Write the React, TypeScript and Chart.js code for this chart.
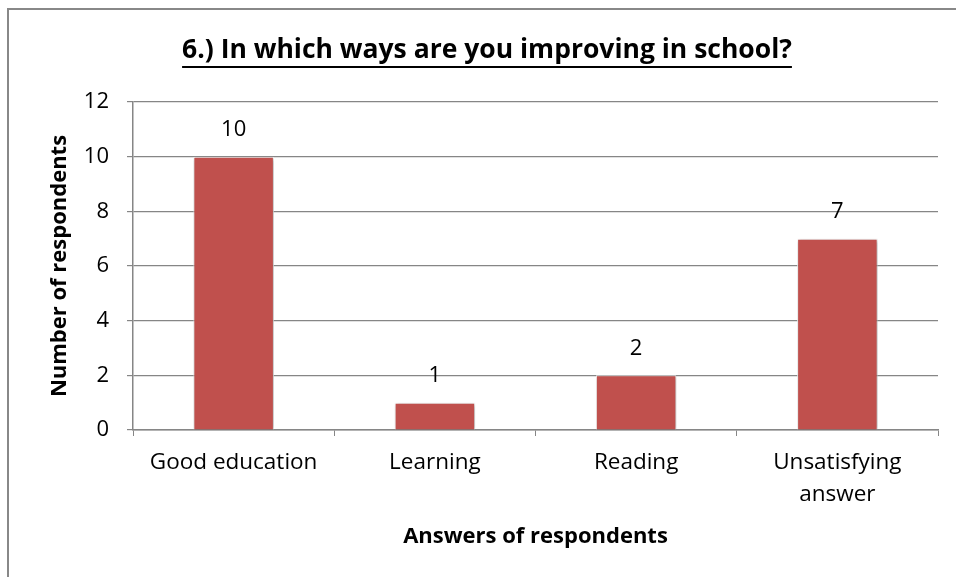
import React, { useEffect, useRef } from "react";
import { Chart, registerables } from "chart.js";

Chart.register(...registerables);

const chartTitle = "6.) In which ways are you improving in school?";
const categories: (string | string[])[] = [
  "Good education",
  "Learning",
  "Reading",
  ["Unsatisfying", "answer"],
];
const respondents = [10, 1, 2, 7];
const yTicks = [0, 2, 4, 6, 8, 10, 12];
const xAxisTitle = "Answers of respondents";
const yAxisTitle = "Number of respondents";

const FONT = "'Open Sans', 'Liberation Sans', sans-serif";
const BAR = "#C0504D";
const GRID = "#868686";

const titlePlugin = {
  id: "customTitle",
  afterDraw(chart: any) {
    const ctx = chart.ctx;
    ctx.save();
    ctx.font = `bold 26.5px ${FONT}`;
    ctx.fillStyle = "#000";
    ctx.textAlign = "center";
    ctx.textBaseline = "middle";
    const cx = chart.width / 2 + 9;
    const cy = 50;
    ctx.fillText(chartTitle, cx, cy);
    const w = ctx.measureText(chartTitle).width;
    ctx.strokeStyle = "#000";
    ctx.lineWidth = 2;
    ctx.beginPath();
    ctx.moveTo(cx - w / 2, cy + 17);
    ctx.lineTo(cx + w / 2, cy + 17);
    ctx.stroke();
    ctx.restore();
  },
};

const shadowPlugin = {
  id: "barShadow",
  beforeDatasetDraw(chart: any) {
    const ctx = chart.ctx;
    ctx.save();
    ctx.shadowColor = "rgba(0,0,0,0.35)";
    ctx.shadowBlur = 4;
    ctx.shadowOffsetX = 1;
    ctx.shadowOffsetY = 1;
  },
  afterDatasetDraw(chart: any) {
    chart.ctx.restore();
  },
};

const labelPlugin = {
  id: "valueLabels",
  afterDatasetsDraw(chart: any) {
    const ctx = chart.ctx;
    const meta = chart.getDatasetMeta(0);
    ctx.save();
    ctx.font = `22px ${FONT}`;
    ctx.fillStyle = "#000";
    ctx.textAlign = "center";
    ctx.textBaseline = "middle";
    meta.data.forEach((bar: any, i: number) => {
      ctx.fillText(String(respondents[i]), bar.x, bar.y - 27);
    });
    ctx.restore();
  },
};

export default function App() {
  const ref = useRef<HTMLCanvasElement | null>(null);
  useEffect(() => {
    if (!ref.current) return;
    const chart = new Chart(ref.current, {
      type: "bar",
      data: {
        labels: categories as any,
        datasets: [
          {
            data: respondents,
            backgroundColor: BAR,
            borderColor: "#ffffff",
            borderWidth: 1,
            categoryPercentage: 1,
            barPercentage: 0.4,
          },
        ],
      },
      options: {
        animation: false,
        responsive: false,
        maintainAspectRatio: false,
        layout: { padding: { top: 102, right: 18, bottom: 0, left: 0 } },
        plugins: {
          legend: { display: false },
          tooltip: { enabled: false },
          title: { display: false },
        },
        scales: {
          x: {
            grid: {
              offset: true,
              drawOnChartArea: false,
              drawTicks: true,
              tickLength: 6,
              color: GRID,
            },
            border: { color: GRID, width: 1.5 },
            ticks: {
              color: "#000",
              font: { family: FONT, size: 22.5, lineHeight: 1.42 },
              padding: 11,
              maxRotation: 0,
              autoSkip: false,
            },
            title: {
              display: true,
              text: xAxisTitle,
              color: "#000",
              font: { family: FONT, size: 22, weight: "bold" },
              padding: { top: 0, bottom: 27 },
            },
            afterFit(scale: any) {
              scale.height = 577 - 430;
            },
          },
          y: {
            min: 0,
            max: 12,
            afterBuildTicks(scale: any) {
              scale.ticks = yTicks.map((v) => ({ value: v }));
            },
            grid: {
              color: GRID,
              lineWidth: 1.2,
              tickLength: 6,
            },
            border: { color: GRID, width: 1.5 },
            ticks: {
              color: "#000",
              font: { family: FONT, size: 22 },
              padding: 18,
            },
            title: {
              display: true,
              text: yAxisTitle,
              color: "#000",
              font: { family: FONT, size: 22, weight: "bold" },
              padding: { top: 47, bottom: 0 },
            },
            afterFit(scale: any) {
              scale.width = 133;
            },
          },
        },
      } as any,
      plugins: [titlePlugin, shadowPlugin, labelPlugin],
    });
    return () => chart.destroy();
  }, []);

  return (
    <div style={{ position: "absolute", left: 0, top: 0, width: 956, height: 577, background: "#fff" }}>
      <div
        style={{
          position: "absolute",
          left: 7,
          top: 8,
          width: 960,
          height: 580,
          borderTop: "2px solid #888888",
          borderLeft: "2px solid #888888",
          boxSizing: "border-box",
        }}
      />
      <canvas ref={ref} width={956} height={577} style={{ position: "absolute", left: 0, top: 0 }} />
    </div>
  );
}
